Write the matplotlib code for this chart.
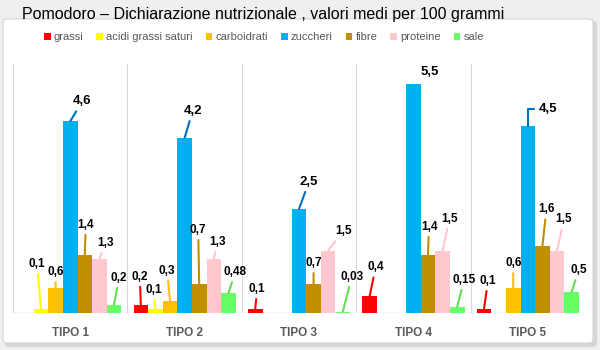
import numpy as np
import matplotlib
matplotlib.use('Agg')
import matplotlib.pyplot as plt
from matplotlib.patches import FancyBboxPatch

# data (nan = no bar)
categories = ['TIPO 1', 'TIPO 2', 'TIPO 3', 'TIPO 4', 'TIPO 5']
series_names = ['grassi', 'acidi grassi saturi', 'carboidrati', 'zuccheri', 'fibre', 'proteine', 'sale']
grassi = [np.nan, 0.2, 0.1, 0.4, 0.1]
acidi_saturi = [0.1, 0.1, np.nan, np.nan, np.nan]
carboidrati = [0.6, 0.3, np.nan, np.nan, 0.6]
zuccheri = [4.6, 4.2, 2.5, 5.5, 4.5]
fibre = [1.4, 0.7, 0.7, 1.4, 1.6]
proteine = [1.3, 1.3, 1.5, 1.5, 1.5]
sale = [0.2, 0.48, 0.03, 0.15, 0.5]
values = [grassi, acidi_saturi, carboidrati, zuccheri, fibre, proteine, sale]

colors = ['#FF0000', '#FFFF00', '#FFC000', '#00B0F0', '#BF8F00', '#FFC7CE', '#66FF66']
leader_colors = ['#FF0000', '#FFFF00', '#FFC000', '#0070C0', '#BF8F00', '#FFC7CE', '#66DD55']

# label offsets in pixels from bar top centre (series, category) -> (dx, dy)
offsets = {
    (1, 0): (-4, 45), (2, 0): (0, 16), (3, 0): (12, 20), (4, 0): (1, 30), (5, 0): (6, 16), (6, 0): (5, 27),
    (0, 1): (-1, 28), (1, 1): (-2, 19), (2, 1): (-3, 30), (3, 1): (8, 27), (4, 1): (-1, 54), (5, 1): (4, 17), (6, 1): (7, 21),
    (0, 2): (2, 20), (3, 2): (10, 27), (4, 2): (0, 21), (5, 2): (15, 19), (6, 2): (9, 35),
    (0, 3): (6, 29), (3, 3): (16, 12), (4, 3): (1, 28), (5, 3): (7, 32), (6, 3): (7, 27),
    (0, 4): (4, 28), (2, 4): (0, 25), (3, 4): (20, 17), (4, 4): (4, 37), (5, 4): (7, 31), (6, 4): (7, 22),
}
no_leader = {(3, 3)}

W, H = 600, 350
fig = plt.figure(figsize=(6, 3.5), dpi=100, facecolor='#EFEFEF')

def fx(px):
    return px / W

def fy(py):
    return 1 - py / H

# white chart box with a soft shadow
shadow = FancyBboxPatch((fx(5), fy(347)), fx(592), (347 - 21) / H, boxstyle='round,pad=0,rounding_size=0.008',
                        transform=fig.transFigure, facecolor='#D6D6D6', edgecolor='none', zorder=-3)
box = FancyBboxPatch((fx(3), fy(343)), fx(590), (343 - 19) / H, boxstyle='round,pad=0,rounding_size=0.008',
                     transform=fig.transFigure, facecolor='white', edgecolor='#D4D4D4', lw=0.8, zorder=-2)
fig.patches.extend([shadow, box])

ax = fig.add_axes([fx(13), fy(313), fx(585 - 13), (313 - 63) / H])
ax.set_facecolor('none')
ax.set_xlim(-0.5, 4.5)
ax.set_ylim(0, 6)

x = np.arange(len(categories))
n = len(series_names)
w = 14.6 / 114.4

for j in range(n):
    xs = x + (j - 3) * w
    vals = np.array(values[j], dtype=float)
    ax.bar(xs, np.nan_to_num(vals), width=w, color=colors[j], label=series_names[j], zorder=2)
    for i, v in enumerate(vals):
        if np.isnan(v):
            continue
        txt = f'{v:g}'.replace('.', ',')
        dx, dy = offsets.get((j, i), (0, 15))
        big = j == 3
        arrow = None
        if (j, i) not in no_leader:
            arrow = dict(arrowstyle='-', color=leader_colors[j], lw=1.5, shrinkA=1, shrinkB=0)
            if (j, i) == (3, 4):
                arrow['connectionstyle'] = 'angle,angleA=0,angleB=90,rad=0'
        ax.annotate(txt, xy=(xs[i], v), xytext=(dx, dy), textcoords='offset pixels',
                    ha='center', va='center', fontsize=9.5 if big else 8.5, fontweight='bold',
                    family='Liberation Sans', color='black', arrowprops=arrow, zorder=4)

ax.vlines(np.arange(-0.5, 5, 1), 0, 6, color='#D9D9D9', lw=0.8, zorder=1)
ax.axhline(0, color='#D9D9D9', lw=1, zorder=1)
for s in ax.spines.values():
    s.set_visible(False)
ax.set_yticks([])
ax.set_xticks(x)
ax.set_xticklabels(categories, fontsize=8.5, fontweight='bold', color='#595959', family='Liberation Sans')
ax.tick_params(axis='x', length=0, pad=10)

fig.text(fx(22), fy(14), 'Pomodoro \u2013 Dichiarazione nutrizionale , valori medi per 100 grammi',
         ha='left', va='center', fontsize=11.5, family='Liberation Sans', color='black')

leg = ax.legend(loc='center', bbox_to_anchor=(fx(264), fy(37)), bbox_transform=fig.transFigure,
                ncol=7, frameon=False, handlelength=0.6, handleheight=0.6, handletextpad=0.3,
                columnspacing=1.15, prop={'family': 'Liberation Sans', 'size': 8})
for t in leg.get_texts():
    t.set_color('#595959')

fig.savefig('out.png', dpi=100, facecolor=fig.get_facecolor())
